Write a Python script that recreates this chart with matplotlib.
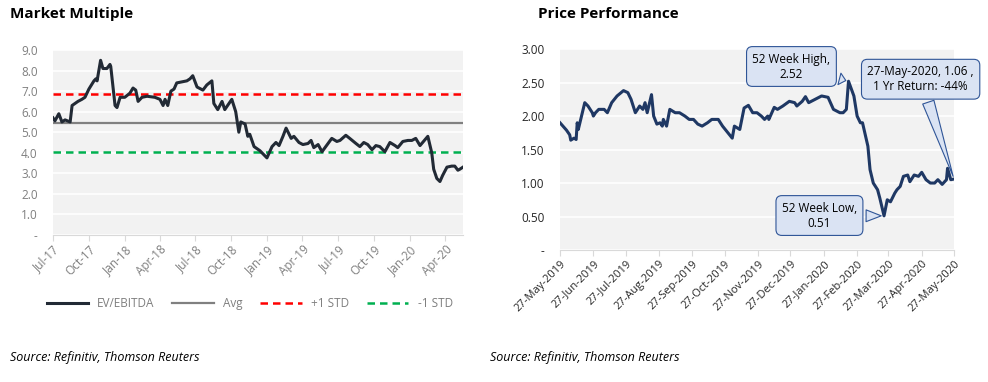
import pandas as pd
import matplotlib
matplotlib.use("Agg")
import matplotlib.pyplot as plt
import matplotlib.dates as mdates

plt.rcParams['font.family'] = ['Open Sans', 'DejaVu Sans']

# ---- Market Multiple (EV/EBITDA) ----
mm_dates = ["2017-07-01", "2017-07-06", "2017-07-16", "2017-07-24", "2017-08-01", "2017-08-14",
            "2017-08-19", "2017-09-03", "2017-09-13", "2017-09-21", "2017-10-01", "2017-10-14",
            "2017-10-19", "2017-10-22", "2017-10-31", "2017-11-06", "2017-11-16", "2017-11-24",
            "2017-11-26", "2017-12-07", "2017-12-12", "2017-12-20", "2018-01-01", "2018-01-14",
            "2018-01-22", "2018-01-29", "2018-02-04", "2018-02-14", "2018-02-27", "2018-03-19",
            "2018-04-01", "2018-04-09", "2018-04-14", "2018-04-21", "2018-04-29", "2018-05-07",
            "2018-05-14", "2018-05-27", "2018-06-09", "2018-06-17", "2018-06-24", "2018-07-05",
            "2018-07-20", "2018-07-30", "2018-08-12", "2018-08-17", "2018-08-27", "2018-09-07",
            "2018-09-14", "2018-10-02", "2018-10-12", "2018-10-20", "2018-10-25", "2018-11-05",
            "2018-11-12", "2018-11-17", "2018-11-28", "2018-12-13", "2018-12-31", "2019-01-13",
            "2019-01-23", "2019-01-31", "2019-02-10", "2019-02-18", "2019-03-03", "2019-03-10",
            "2019-03-23", "2019-04-02", "2019-04-15", "2019-04-23", "2019-04-30", "2019-05-11",
            "2019-05-21", "2019-06-15", "2019-06-28", "2019-07-06", "2019-07-21", "2019-07-31",
            "2019-08-16", "2019-08-26", "2019-09-05", "2019-09-15", "2019-09-26", "2019-10-06",
            "2019-10-16", "2019-10-29", "2019-11-11", "2019-11-24", "2019-12-01", "2019-12-14",
            "2019-12-27", "2020-01-06", "2020-01-16", "2020-01-27", "2020-02-16", "2020-02-26",
            "2020-03-02", "2020-03-10", "2020-03-18", "2020-03-25", "2020-04-05", "2020-04-17",
            "2020-04-25", "2020-05-03", "2020-05-08", "2020-05-16"]
ev_ebitda = [5.7, 5.55, 5.9, 5.5, 5.6, 5.5,
             6.3, 6.5, 6.6, 6.7, 7.1, 7.5,
             7.6, 7.5, 8.5, 8.1, 8.1, 8.3,
             8.2, 6.3, 6.2, 6.7, 6.7, 6.9,
             7.15, 7.05, 6.5, 6.7, 6.75, 6.7,
             6.6, 6.3, 6.6, 6.3, 7.0, 7.1,
             7.4, 7.45, 7.5, 7.6, 7.75, 7.2,
             7.05, 7.3, 7.5, 6.4, 6.1, 6.5,
             6.1, 6.6, 6.0, 5.0, 5.5, 5.4,
             4.8, 4.9, 4.3, 4.1, 3.75, 4.3,
             4.5, 4.35, 4.8, 5.2, 4.7, 4.8,
             4.5, 4.4, 4.45, 4.6, 4.25, 4.4,
             4.05, 4.7, 4.55, 4.6, 4.85, 4.7,
             4.45, 4.3, 4.5, 4.4, 4.15, 4.35,
             4.3, 4.05, 4.5, 4.35, 4.25, 4.55,
             4.6, 4.6, 4.7, 4.35, 4.8, 4.0,
             3.2, 2.75, 2.6, 2.9, 3.3, 3.35,
             3.35, 3.15, 3.2, 3.3]
avg_val = 5.45
plus_std = 6.85
minus_std = 4.05

# ---- Price Performance ----
px_dates = ["2019-05-27", "2019-06-02", "2019-06-05", "2019-06-06", "2019-06-09", "2019-06-11",
            "2019-06-12", "2019-06-13", "2019-06-16", "2019-06-19", "2019-06-22", "2019-06-26",
            "2019-06-27", "2019-06-29", "2019-07-02", "2019-07-07", "2019-07-10", "2019-07-14",
            "2019-07-19", "2019-07-25", "2019-07-29", "2019-08-01", "2019-08-05", "2019-08-09",
            "2019-08-12", "2019-08-14", "2019-08-16", "2019-08-20", "2019-08-22", "2019-08-25",
            "2019-08-28", "2019-08-30", "2019-08-31", "2019-09-03", "2019-09-06", "2019-09-11",
            "2019-09-15", "2019-09-20", "2019-09-24", "2019-09-28", "2019-10-02", "2019-10-06",
            "2019-10-11", "2019-10-15", "2019-10-21", "2019-10-25", "2019-10-30", "2019-11-03",
            "2019-11-05", "2019-11-10", "2019-11-14", "2019-11-18", "2019-11-22", "2019-11-26",
            "2019-11-30", "2019-12-03", "2019-12-06", "2019-12-07", "2019-12-12", "2019-12-15",
            "2019-12-20", "2019-12-26", "2019-12-31", "2020-01-02", "2020-01-07", "2020-01-10",
            "2020-01-13", "2020-01-19", "2020-01-25", "2020-01-31", "2020-02-05", "2020-02-11",
            "2020-02-14", "2020-02-17", "2020-02-19", "2020-02-24", "2020-02-27", "2020-03-01",
            "2020-03-03", "2020-03-08", "2020-03-10", "2020-03-13", "2020-03-17", "2020-03-19",
            "2020-03-23", "2020-03-26", "2020-03-29", "2020-04-02", "2020-04-04", "2020-04-07",
            "2020-04-10", "2020-04-14", "2020-04-16", "2020-04-20", "2020-04-24", "2020-04-27",
            "2020-05-01", "2020-05-05", "2020-05-09", "2020-05-12", "2020-05-16", "2020-05-20",
            "2020-05-21", "2020-05-24", "2020-05-27"]
price = [1.90, 1.79, 1.72, 1.64, 1.67, 1.65,
         1.9, 1.8, 2.0, 2.2, 2.15, 2.05,
         2.0, 2.05, 2.1, 2.1, 2.05, 2.2,
         2.3, 2.38, 2.35, 2.25, 2.05, 2.15,
         2.1, 2.2, 2.05, 2.32, 2.0, 1.88,
         1.9, 1.85, 1.95, 1.85, 2.1, 2.05,
         2.05, 2.0, 1.95, 1.95, 1.88, 1.85,
         1.9, 1.95, 1.95, 1.85, 1.75, 1.67,
         1.85, 1.8, 2.12, 2.16, 2.05, 2.05,
         2.0, 1.95, 2.0, 1.95, 2.13, 2.1,
         2.15, 2.22, 2.2, 2.15, 2.22, 2.29,
         2.2, 2.25, 2.3, 2.28, 2.1, 2.05,
         2.05, 2.1, 2.52, 2.3, 2.0, 1.9,
         1.9, 1.55, 1.2, 1.0, 0.9, 0.78,
         0.51, 0.75, 0.72, 0.85, 0.9, 0.95,
         1.1, 1.12, 1.02, 1.12, 1.1, 1.16,
         1.05, 1.0, 1.0, 1.05, 0.98, 1.05,
         1.22, 1.05, 1.06]

mm_x = pd.to_datetime(mm_dates)
px_x = pd.to_datetime(px_dates)

grey_txt = '#7f7f7f'
bg = '#f2f2f2'

fig = plt.figure(figsize=(9.88, 3.82), dpi=100)

# ---------------- left chart ----------------
ax1 = fig.add_axes([0.0536, 0.385, 0.415, 0.484])
ax1.set_facecolor(bg)
ax1.plot(mm_x, ev_ebitda, color='#222a35', lw=2.2, label='EV/EBITDA', zorder=4)
ax1.axhline(avg_val, color='#808080', lw=1.6, label='Avg', zorder=3)
ax1.axhline(plus_std, color='#ff0000', lw=1.8, ls=(0, (3, 2)), label='+1 STD', zorder=3)
ax1.axhline(minus_std, color='#00b050', lw=1.8, ls=(0, (3, 2)), label='-1 STD', zorder=3)
ax1.set_ylim(0, 9)
ax1.set_xlim(pd.Timestamp('2017-07-01'), mm_x[-1])
ax1.set_yticks(range(0, 10))
ax1.set_yticklabels(['-'] + [f'{v:.1f}' for v in range(1, 10)])
ax1.yaxis.grid(True, color='white', lw=1.2)
ax1.set_axisbelow(True)
ax1.xaxis.set_major_locator(mdates.MonthLocator(bymonth=[1, 4, 7, 10]))
ax1.xaxis.set_major_formatter(mdates.DateFormatter('%b-%y'))
for s in ['top', 'right', 'left']:
    ax1.spines[s].set_visible(False)
ax1.spines['bottom'].set_color('#d9d9d9')
ax1.tick_params(axis='y', length=0, labelsize=8.5, labelcolor=grey_txt, pad=11)
ax1.tick_params(axis='x', length=4, color='#d9d9d9', labelsize=8.5, labelcolor=grey_txt, pad=2)
plt.setp(ax1.get_xticklabels(), rotation=45, ha='right', rotation_mode='anchor')
ax1.legend(loc='upper center', bbox_to_anchor=(0.48, -0.28), ncol=4, frameon=False,
           fontsize=8.5, labelcolor=grey_txt, handlelength=3.5, columnspacing=1.5)

# ---------------- right chart ----------------
ax2 = fig.add_axes([0.5668, 0.3455, 0.3988, 0.526])
ax2.set_facecolor(bg)
ax2.plot(px_x, price, color='#1f3864', lw=2.2, zorder=4)
ax2.set_ylim(0, 3)
ax2.set_xlim(pd.Timestamp('2019-05-27'), pd.Timestamp('2020-05-27'))
ticks2 = [0, 0.5, 1.0, 1.5, 2.0, 2.5, 3.0]
ax2.set_yticks(ticks2)
ax2.set_yticklabels(['-'] + [f'{v:.2f}' for v in ticks2[1:]])
ax2.yaxis.grid(True, color='white', lw=1.2)
ax2.set_axisbelow(True)
ax2.xaxis.set_major_locator(mdates.MonthLocator(bymonthday=27))
ax2.xaxis.set_major_formatter(mdates.DateFormatter('%d-%b-%Y'))
for s in ['top', 'right', 'left']:
    ax2.spines[s].set_visible(False)
ax2.spines['bottom'].set_color('#d9d9d9')
ax2.tick_params(axis='y', length=0, labelsize=8.5, labelcolor='#262626', pad=11)
ax2.tick_params(axis='x', length=4, color='#d9d9d9', labelsize=8, labelcolor='#262626', pad=2)
plt.setp(ax2.get_xticklabels(), rotation=45, ha='right', rotation_mode='anchor')

box = dict(boxstyle='round,pad=0.5,rounding_size=0.5', fc='#dae3f3', ec='#2f5597', lw=0.8)
wedge = dict(arrowstyle='wedge,tail_width=1.0', fc='#dae3f3', ec='#2f5597', lw=0.8)

hi_i = price.index(max(price))
lo_i = price.index(min(price))
ax2.annotate(f'52 Week High,\n{price[hi_i]:.2f}', xy=(px_x[hi_i], price[hi_i]),
             xytext=(pd.Timestamp('2019-12-28'), 2.74), ha='center', va='center',
             fontsize=8.5, bbox=box, arrowprops=wedge, zorder=6)
ax2.annotate(f'52 Week Low,\n{price[lo_i]:.2f}', xy=(px_x[lo_i], price[lo_i]),
             xytext=(pd.Timestamp('2020-01-23'), 0.515), ha='center', va='center',
             fontsize=8.5, bbox=box, arrowprops=wedge, zorder=6)
ret = price[-1] / price[0] - 1
ax2.annotate(f'27-May-2020, {price[-1]:.2f} ,\n1 Yr Return: {ret:.0%}', xy=(px_x[-1], price[-1]),
             xytext=(pd.Timestamp('2020-04-26'), 2.55), ha='center', va='center',
             fontsize=8.5, bbox=box, arrowprops=wedge, zorder=6, annotation_clip=False)

# titles and sources
fig.text(0.010, 0.963, 'Market Multiple', fontsize=11, fontweight='bold', va='center')
fig.text(0.5445, 0.963, 'Price Performance', fontsize=11, fontweight='bold', va='center')
fig.text(0.010, 0.065, 'Source: Refinitiv, Thomson Reuters', fontsize=9, style='italic', va='center')
fig.text(0.496, 0.065, 'Source: Refinitiv, Thomson Reuters', fontsize=9, style='italic', va='center')

fig.savefig('out.png', dpi=100)
